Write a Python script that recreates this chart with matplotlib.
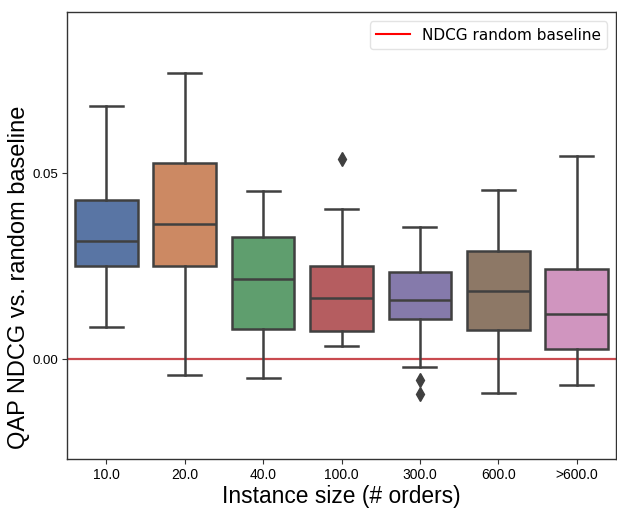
import matplotlib
matplotlib.use("Agg")
import matplotlib.pyplot as plt
import seaborn as sns

categories = ["10.0", "20.0", "40.0", "100.0", "300.0", "600.0", ">600.0"]
whislo = [0.0085, -0.0044, -0.0050, 0.0034, -0.0022, -0.0091, -0.0070]
q1 = [0.0251, 0.0249, 0.0082, 0.0075, 0.0109, 0.0079, 0.0026]
med = [0.0318, 0.0363, 0.0215, 0.0165, 0.0160, 0.0184, 0.0120]
q3 = [0.0429, 0.0527, 0.0328, 0.0251, 0.0234, 0.0291, 0.0243]
whishi = [0.0680, 0.0770, 0.0452, 0.0405, 0.0354, 0.0456, 0.0546]
fliers = [[], [], [], [0.0538], [-0.0057, -0.0095], [], []]

colors = sns.color_palette("deep", 7, desat=0.75)
gray = "#404040"

stats = []
for i in range(len(categories)):
    stats.append(dict(med=med[i], q1=q1[i], q3=q3[i], whislo=whislo[i],
                      whishi=whishi[i], fliers=fliers[i], label=categories[i]))

fig = plt.figure(figsize=(6.17, 5.09), dpi=100)
ax = fig.add_axes([67 / 617, 1 - 459 / 509, (616 - 67) / 617, (459 - 12.3) / 509])

bp = ax.bxp(stats, positions=range(len(categories)), widths=0.8, patch_artist=True,
            capwidths=0.42,
            boxprops=dict(linewidth=1.8, edgecolor=gray),
            medianprops=dict(color=gray, linewidth=1.8),
            whiskerprops=dict(color=gray, linewidth=1.8),
            capprops=dict(color=gray, linewidth=1.8),
            flierprops=dict(marker="d", markerfacecolor=gray, markeredgecolor=gray,
                            markersize=7))
for patch, c in zip(bp["boxes"], colors):
    patch.set_facecolor(c)

ax.axhline(0.0, color="#c94a4f", linewidth=1.6, zorder=0.5)
ax.plot([], [], color="red", linewidth=1.5, label="NDCG random baseline")

ax.set_xlim(-0.5, 6.5)
ax.set_ylim(-0.0269, 0.0933)
ax.set_yticks([0.0, 0.05])
ax.set_yticklabels(["0.00", "0.05"], fontsize=9.5, family="Liberation Sans")
ax.set_xticks(range(len(categories)))
ax.set_xticklabels(categories, fontsize=10, family="Liberation Sans")
ax.tick_params(axis="both", length=3.5, width=0.8, color="#333333", pad=3)
for s in ax.spines.values():
    s.set_color("#333333")
    s.set_linewidth(1.0)

ax.set_ylabel("QAP NDCG vs. random baseline", fontsize=17, family="Liberation Sans")
ax.yaxis.set_label_coords(-0.067, 0.407)
ax.set_xlabel("Instance size (# orders)", fontsize=16.4, family="Liberation Sans", labelpad=2)

leg = ax.legend(loc="upper right", fontsize=11, frameon=True, fancybox=True,
                borderaxespad=0.6, handlelength=2.2)
leg.get_frame().set_edgecolor("#dddddd")

fig.savefig("out.png", dpi=100)
